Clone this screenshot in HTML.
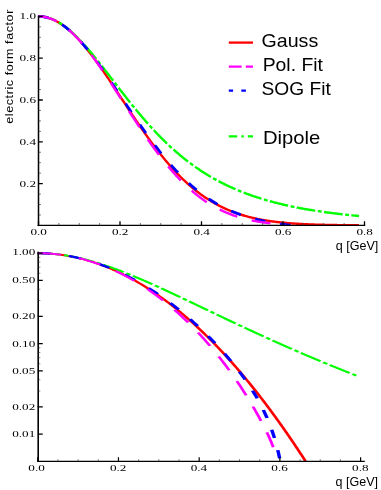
<!DOCTYPE html>
<html><head><meta charset="utf-8"><title>form factor</title>
<style>html,body{margin:0;padding:0;background:#fff}svg{display:block}</style>
</head><body>
<svg width="381" height="490" viewBox="0 0 381 490" style="will-change:transform">
<rect width="381" height="490" fill="#fff"/>
<defs>
<clipPath id="ct"><rect x="30" y="5" width="340" height="221.10"/></clipPath>
<clipPath id="cb"><rect x="30" y="245" width="340" height="216.90"/></clipPath>
</defs>
<g clip-path="url(#ct)" fill="none" stroke-linecap="butt" stroke-linejoin="round" stroke-width="2.4">
<path d="M38.50 16.40 L39.30 16.41 L40.10 16.44 L40.91 16.49 L41.71 16.56 L42.51 16.64 L43.31 16.75 L44.11 16.88 L44.91 17.02 L45.72 17.19 L46.52 17.37 L47.32 17.57 L48.12 17.80 L48.92 18.04 L49.72 18.30 L50.53 18.58 L51.33 18.87 L52.13 19.19 L52.93 19.53 L53.73 19.88 L54.53 20.25 L55.34 20.64 L56.14 21.05 L56.94 21.48 L57.74 21.93 L58.54 22.39 L59.35 22.87 L60.15 23.37 L60.95 23.89 L61.75 24.42 L62.55 24.97 L63.35 25.54 L64.16 26.12 L64.96 26.73 L65.76 27.34 L66.56 27.98 L67.36 28.63 L68.16 29.30 L68.97 29.98 L69.77 30.68 L70.57 31.39 L71.37 32.12 L72.17 32.87 L72.98 33.63 L73.78 34.40 L74.58 35.19 L75.38 36.00 L76.18 36.81 L76.98 37.65 L77.79 38.49 L78.59 39.35 L79.39 40.22 L80.19 41.11 L80.99 42.01 L81.79 42.92 L82.60 43.84 L83.40 44.78 L84.20 45.72 L85.00 46.68 L85.80 47.65 L86.60 48.63 L87.41 49.63 L88.21 50.63 L89.01 51.64 L89.81 52.67 L90.61 53.70 L91.42 54.74 L92.22 55.80 L93.02 56.86 L93.82 57.93 L94.62 59.01 L95.42 60.10 L96.23 61.19 L97.03 62.30 L97.83 63.41 L98.63 64.53 L99.43 65.65 L100.23 66.79 L101.04 67.93 L101.84 69.07 L102.64 70.23 L103.44 71.38 L104.24 72.55 L105.05 73.72 L105.85 74.89 L106.65 76.07 L107.45 77.25 L108.25 78.44 L109.05 79.63 L109.86 80.83 L110.66 82.03 L111.46 83.23 L112.26 84.43 L113.06 85.64 L113.86 86.85 L114.67 88.07 L115.47 89.28 L116.27 90.50 L117.07 91.72 L117.87 92.94 L118.67 94.16 L119.48 95.38 L120.28 96.60 L121.08 97.82 L121.88 99.05 L122.68 100.27 L123.49 101.49 L124.29 102.71 L125.09 103.94 L125.89 105.16 L126.69 106.38 L127.49 107.59 L128.30 108.81 L129.10 110.02 L129.90 111.24 L130.70 112.45 L131.50 113.65 L132.30 114.86 L133.11 116.06 L133.91 117.26 L134.71 118.45 L135.51 119.65 L136.31 120.84 L137.12 122.02 L137.92 123.20 L138.72 124.38 L139.52 125.55 L140.32 126.72 L141.12 127.89 L141.93 129.04 L142.73 130.20 L143.53 131.35 L144.33 132.49 L145.13 133.63 L145.93 134.76 L146.74 135.89 L147.54 137.01 L148.34 138.13 L149.14 139.24 L149.94 140.34 L150.74 141.44 L151.55 142.53 L152.35 143.61 L153.15 144.69 L153.95 145.76 L154.75 146.82 L155.56 147.88 L156.36 148.93 L157.16 149.97 L157.96 151.01 L158.76 152.04 L159.56 153.06 L160.37 154.07 L161.17 155.07 L161.97 156.07 L162.77 157.06 L163.57 158.04 L164.37 159.02 L165.18 159.98 L165.98 160.94 L166.78 161.89 L167.58 162.83 L168.38 163.77 L169.18 164.69 L169.99 165.61 L170.79 166.52 L171.59 167.42 L172.39 168.31 L173.19 169.19 L174.00 170.06 L174.80 170.93 L175.60 171.79 L176.40 172.64 L177.20 173.48 L178.00 174.31 L178.81 175.13 L179.61 175.95 L180.41 176.75 L181.21 177.55 L182.01 178.34 L182.81 179.12 L183.62 179.89 L184.42 180.65 L185.22 181.40 L186.02 182.15 L186.82 182.88 L187.63 183.61 L188.43 184.33 L189.23 185.04 L190.03 185.74 L190.83 186.44 L191.63 187.12 L192.44 187.80 L193.24 188.46 L194.04 189.12 L194.84 189.77 L195.64 190.42 L196.44 191.05 L197.25 191.68 L198.05 192.29 L198.85 192.90 L199.65 193.50 L200.45 194.10 L201.25 194.68 L202.06 195.26 L202.86 195.82 L203.66 196.38 L204.46 196.94 L205.26 197.48 L206.07 198.02 L206.87 198.55 L207.67 199.07 L208.47 199.58 L209.27 200.09 L210.07 200.58 L210.88 201.07 L211.68 201.56 L212.48 202.03 L213.28 202.50 L214.08 202.96 L214.88 203.42 L215.69 203.86 L216.49 204.30 L217.29 204.73 L218.09 205.16 L218.89 205.58 L219.70 205.99 L220.50 206.39 L221.30 206.79 L222.10 207.18 L222.90 207.57 L223.70 207.95 L224.51 208.32 L225.31 208.68 L226.11 209.04 L226.91 209.40 L227.71 209.74 L228.51 210.08 L229.32 210.42 L230.12 210.75 L230.92 211.07 L231.72 211.39 L232.52 211.70 L233.32 212.01 L234.13 212.31 L234.93 212.60 L235.73 212.89 L236.53 213.17 L237.33 213.45 L238.14 213.72 L238.94 213.99 L239.74 214.26 L240.54 214.51 L241.34 214.77 L242.14 215.01 L242.95 215.26 L243.75 215.50 L244.55 215.73 L245.35 215.96 L246.15 216.18 L246.95 216.40 L247.76 216.62 L248.56 216.83 L249.36 217.04 L250.16 217.24 L250.96 217.44 L251.76 217.63 L252.57 217.82 L253.37 218.01 L254.17 218.19 L254.97 218.37 L255.77 218.54 L256.58 218.71 L257.38 218.88 L258.18 219.05 L258.98 219.21 L259.78 219.36 L260.58 219.52 L261.39 219.67 L262.19 219.81 L262.99 219.96 L263.79 220.10 L264.59 220.23 L265.39 220.37 L266.20 220.50 L267.00 220.63 L267.80 220.75 L268.60 220.87 L269.40 220.99 L270.21 221.11 L271.01 221.22 L271.81 221.34 L272.61 221.44 L273.41 221.55 L274.21 221.65 L275.02 221.76 L275.82 221.85 L276.62 221.95 L277.42 222.05 L278.22 222.14 L279.02 222.23 L279.83 222.31 L280.63 222.40 L281.43 222.48 L282.23 222.56 L283.03 222.64 L283.83 222.72 L284.64 222.80 L285.44 222.87 L286.24 222.94 L287.04 223.01 L287.84 223.08 L288.65 223.15 L289.45 223.21 L290.25 223.27 L291.05 223.33 L291.85 223.39 L292.65 223.45 L293.46 223.51 L294.26 223.56 L295.06 223.62 L295.86 223.67 L296.66 223.72 L297.46 223.77 L298.27 223.82 L299.07 223.87 L299.87 223.91 L300.67 223.96 L301.47 224.00 L302.28 224.04 L303.08 224.08 L303.88 224.12 L304.68 224.16 L305.48 224.20 L306.28 224.24 L307.09 224.27 L307.89 224.31 L308.69 224.34 L309.49 224.37 L310.29 224.40 L311.09 224.44 L311.90 224.47 L312.70 224.50 L313.50 224.52 L314.30 224.55 L315.10 224.58 L315.90 224.60 L316.71 224.63 L317.51 224.65 L318.31 224.68 L319.11 224.70 L319.91 224.72 L320.72 224.74 L321.52 224.77 L322.32 224.79 L323.12 224.81 L323.92 224.83 L324.72 224.84 L325.53 224.86 L326.33 224.88 L327.13 224.90 L327.93 224.91 L328.73 224.93 L329.53 224.95 L330.34 224.96 L331.14 224.98 L331.94 224.99 L332.74 225.00 L333.54 225.02 L334.34 225.03 L335.15 225.04 L335.95 225.05 L336.75 225.07 L337.55 225.08 L338.35 225.09 L339.16 225.10 L339.96 225.11 L340.76 225.12 L341.56 225.13 L342.36 225.14 L343.16 225.15 L343.97 225.16 L344.77 225.16 L345.57 225.17 L346.37 225.18 L347.17 225.19 L347.97 225.20 L348.78 225.20 L349.58 225.21 L350.38 225.22 L351.18 225.22 L351.98 225.23 L352.79 225.24 L353.59 225.24 L354.39 225.25 L355.19 225.25 L355.99 225.26 L356.79 225.26 L357.60 225.27 L358.40 225.27 L359.00 225.28" stroke="#ff0000"/>
<path d="M38.50 16.40 L39.30 16.41 L40.10 16.44 L40.91 16.49 L41.71 16.56 L42.51 16.64 L43.31 16.75 L44.11 16.88 L44.91 17.02 L45.72 17.19 L46.52 17.37 L47.32 17.57 L48.12 17.79 L48.92 18.03 L49.72 18.29 L50.53 18.57 L51.33 18.87 L52.13 19.18 L52.93 19.52 L53.73 19.87 L54.53 20.24 L55.34 20.62 L56.14 21.03 L56.94 21.45 L57.74 21.89 L58.54 22.35 L59.35 22.82 L60.15 23.31 L60.95 23.82 L61.75 24.34 L62.55 24.88 L63.35 25.44 L64.16 26.01 L64.96 26.60 L65.76 27.20 L66.56 27.82 L67.36 28.46 L68.16 29.10 L68.97 29.77 L69.77 30.44 L70.57 31.13 L71.37 31.84 L72.17 32.55 L72.98 33.28 L73.78 34.03 L74.58 34.78 L75.38 35.55 L76.18 36.33 L76.98 37.12 L77.79 37.93 L78.59 38.74 L79.39 39.57 L80.19 40.41 L80.99 41.25 L81.79 42.11 L82.60 42.98 L83.40 43.86 L84.20 44.74 L85.00 45.64 L85.80 46.54 L86.60 47.45 L87.41 48.38 L88.21 49.30 L89.01 50.24 L89.81 51.18 L90.61 52.14 L91.42 53.09 L92.22 54.06 L93.02 55.03 L93.82 56.00 L94.62 56.99 L95.42 57.97 L96.23 58.97 L97.03 59.96 L97.83 60.97 L98.63 61.97 L99.43 62.98 L100.23 64.00 L101.04 65.02 L101.84 66.04 L102.64 67.06 L103.44 68.09 L104.24 69.12 L105.05 70.15 L105.85 71.19 L106.65 72.22 L107.45 73.26 L108.25 74.30 L109.05 75.34 L109.86 76.38 L110.66 77.42 L111.46 78.47 L112.26 79.51 L113.06 80.55 L113.86 81.60 L114.67 82.64 L115.47 83.68 L116.27 84.73 L117.07 85.77 L117.87 86.81 L118.67 87.85 L119.48 88.88 L120.28 89.92 L121.08 90.96 L121.88 91.99 L122.68 93.02 L123.49 94.05 L124.29 95.07 L125.09 96.10 L125.89 97.12 L126.69 98.14 L127.49 99.15 L128.30 100.16 L129.10 101.17 L129.90 102.18 L130.70 103.18 L131.50 104.18 L132.30 105.17 L133.11 106.16 L133.91 107.15 L134.71 108.13 L135.51 109.11 L136.31 110.09 L137.12 111.06 L137.92 112.02 L138.72 112.98 L139.52 113.94 L140.32 114.89 L141.12 115.84 L141.93 116.78 L142.73 117.72 L143.53 118.65 L144.33 119.58 L145.13 120.50 L145.93 121.42 L146.74 122.33 L147.54 123.24 L148.34 124.14 L149.14 125.03 L149.94 125.93 L150.74 126.81 L151.55 127.69 L152.35 128.56 L153.15 129.43 L153.95 130.29 L154.75 131.15 L155.56 132.00 L156.36 132.85 L157.16 133.69 L157.96 134.52 L158.76 135.35 L159.56 136.17 L160.37 136.99 L161.17 137.80 L161.97 138.60 L162.77 139.40 L163.57 140.19 L164.37 140.98 L165.18 141.76 L165.98 142.54 L166.78 143.31 L167.58 144.07 L168.38 144.83 L169.18 145.58 L169.99 146.32 L170.79 147.06 L171.59 147.80 L172.39 148.52 L173.19 149.24 L174.00 149.96 L174.80 150.67 L175.60 151.37 L176.40 152.07 L177.20 152.76 L178.00 153.45 L178.81 154.13 L179.61 154.81 L180.41 155.48 L181.21 156.14 L182.01 156.80 L182.81 157.45 L183.62 158.09 L184.42 158.74 L185.22 159.37 L186.02 160.00 L186.82 160.62 L187.63 161.24 L188.43 161.85 L189.23 162.46 L190.03 163.06 L190.83 163.66 L191.63 164.25 L192.44 164.83 L193.24 165.41 L194.04 165.99 L194.84 166.56 L195.64 167.12 L196.44 167.68 L197.25 168.23 L198.05 168.78 L198.85 169.32 L199.65 169.86 L200.45 170.40 L201.25 170.92 L202.06 171.45 L202.86 171.96 L203.66 172.48 L204.46 172.99 L205.26 173.49 L206.07 173.99 L206.87 174.48 L207.67 174.97 L208.47 175.45 L209.27 175.93 L210.07 176.41 L210.88 176.88 L211.68 177.34 L212.48 177.80 L213.28 178.26 L214.08 178.71 L214.88 179.16 L215.69 179.60 L216.49 180.04 L217.29 180.48 L218.09 180.91 L218.89 181.33 L219.70 181.75 L220.50 182.17 L221.30 182.58 L222.10 182.99 L222.90 183.40 L223.70 183.80 L224.51 184.20 L225.31 184.59 L226.11 184.98 L226.91 185.36 L227.71 185.74 L228.51 186.12 L229.32 186.50 L230.12 186.87 L230.92 187.23 L231.72 187.59 L232.52 187.95 L233.32 188.31 L234.13 188.66 L234.93 189.01 L235.73 189.35 L236.53 189.69 L237.33 190.03 L238.14 190.36 L238.94 190.70 L239.74 191.02 L240.54 191.35 L241.34 191.67 L242.14 191.99 L242.95 192.30 L243.75 192.61 L244.55 192.92 L245.35 193.22 L246.15 193.52 L246.95 193.82 L247.76 194.12 L248.56 194.41 L249.36 194.70 L250.16 194.99 L250.96 195.27 L251.76 195.55 L252.57 195.83 L253.37 196.10 L254.17 196.38 L254.97 196.65 L255.77 196.91 L256.58 197.18 L257.38 197.44 L258.18 197.70 L258.98 197.95 L259.78 198.20 L260.58 198.46 L261.39 198.70 L262.19 198.95 L262.99 199.19 L263.79 199.43 L264.59 199.67 L265.39 199.91 L266.20 200.14 L267.00 200.37 L267.80 200.60 L268.60 200.83 L269.40 201.05 L270.21 201.27 L271.01 201.49 L271.81 201.71 L272.61 201.92 L273.41 202.13 L274.21 202.35 L275.02 202.55 L275.82 202.76 L276.62 202.96 L277.42 203.17 L278.22 203.37 L279.02 203.56 L279.83 203.76 L280.63 203.95 L281.43 204.15 L282.23 204.34 L283.03 204.53 L283.83 204.71 L284.64 204.90 L285.44 205.08 L286.24 205.26 L287.04 205.44 L287.84 205.62 L288.65 205.79 L289.45 205.96 L290.25 206.14 L291.05 206.31 L291.85 206.47 L292.65 206.64 L293.46 206.81 L294.26 206.97 L295.06 207.13 L295.86 207.29 L296.66 207.45 L297.46 207.61 L298.27 207.76 L299.07 207.91 L299.87 208.07 L300.67 208.22 L301.47 208.37 L302.28 208.51 L303.08 208.66 L303.88 208.81 L304.68 208.95 L305.48 209.09 L306.28 209.23 L307.09 209.37 L307.89 209.51 L308.69 209.64 L309.49 209.78 L310.29 209.91 L311.09 210.05 L311.90 210.18 L312.70 210.31 L313.50 210.43 L314.30 210.56 L315.10 210.69 L315.90 210.81 L316.71 210.94 L317.51 211.06 L318.31 211.18 L319.11 211.30 L319.91 211.42 L320.72 211.54 L321.52 211.65 L322.32 211.77 L323.12 211.88 L323.92 211.99 L324.72 212.11 L325.53 212.22 L326.33 212.33 L327.13 212.44 L327.93 212.54 L328.73 212.65 L329.53 212.76 L330.34 212.86 L331.14 212.96 L331.94 213.07 L332.74 213.17 L333.54 213.27 L334.34 213.37 L335.15 213.47 L335.95 213.56 L336.75 213.66 L337.55 213.76 L338.35 213.85 L339.16 213.95 L339.96 214.04 L340.76 214.13 L341.56 214.22 L342.36 214.31 L343.16 214.40 L343.97 214.49 L344.77 214.58 L345.57 214.67 L346.37 214.75 L347.17 214.84 L347.97 214.92 L348.78 215.01 L349.58 215.09 L350.38 215.17 L351.18 215.25 L351.98 215.33 L352.79 215.41 L353.59 215.49 L354.39 215.57 L355.19 215.65 L355.99 215.73 L356.79 215.80 L357.60 215.88 L358.40 215.95 L359.00 216.01" stroke="#00ff00" stroke-dasharray="18.8 2.6 3.8 2.4"/>
<path d="M38.50 16.40 L39.30 16.41 L40.10 16.44 L40.91 16.49 L41.71 16.56 L42.51 16.64 L43.31 16.75 L44.11 16.88 L44.91 17.02 L45.72 17.19 L46.52 17.37 L47.32 17.57 L48.12 17.80 L48.92 18.04 L49.72 18.30 L50.53 18.58 L51.33 18.87 L52.13 19.19 L52.93 19.53 L53.73 19.88 L54.53 20.25 L55.34 20.64 L56.14 21.05 L56.94 21.48 L57.74 21.92 L58.54 22.38 L59.35 22.86 L60.15 23.36 L60.95 23.88 L61.75 24.41 L62.55 24.96 L63.35 25.53 L64.16 26.11 L64.96 26.71 L65.76 27.33 L66.56 27.96 L67.36 28.61 L68.16 29.27 L68.97 29.95 L69.77 30.65 L70.57 31.36 L71.37 32.08 L72.17 32.82 L72.98 33.58 L73.78 34.35 L74.58 35.14 L75.38 35.93 L76.18 36.75 L76.98 37.57 L77.79 38.41 L78.59 39.27 L79.39 40.13 L80.19 41.01 L80.99 41.90 L81.79 42.80 L82.60 43.72 L83.40 44.65 L84.20 45.58 L85.00 46.53 L85.80 47.49 L86.60 48.47 L87.41 49.45 L88.21 50.44 L89.01 51.44 L89.81 52.46 L90.61 53.48 L91.42 54.51 L92.22 55.55 L93.02 56.60 L93.82 57.65 L94.62 58.72 L95.42 59.79 L96.23 60.87 L97.03 61.96 L97.83 63.06 L98.63 64.16 L99.43 65.27 L100.23 66.39 L101.04 67.51 L101.84 68.64 L102.64 69.77 L103.44 70.91 L104.24 72.06 L105.05 73.21 L105.85 74.36 L106.65 75.52 L107.45 76.68 L108.25 77.85 L109.05 79.02 L109.86 80.19 L110.66 81.37 L111.46 82.55 L112.26 83.74 L113.06 84.92 L113.86 86.11 L114.67 87.30 L115.47 88.49 L116.27 89.68 L117.07 90.88 L117.87 92.07 L118.67 93.27 L119.48 94.47 L120.28 95.67 L121.08 96.87 L121.88 98.06 L122.68 99.26 L123.49 100.46 L124.29 101.66 L125.09 102.85 L125.89 104.05 L126.69 105.25 L127.49 106.44 L128.30 107.63 L129.10 108.82 L129.90 110.01 L130.70 111.20 L131.50 112.38 L132.30 113.56 L133.11 114.74 L133.91 115.92 L134.71 117.09 L135.51 118.26 L136.31 119.43 L137.12 120.59 L137.92 121.76 L138.72 122.91 L139.52 124.07 L140.32 125.21 L141.12 126.36 L141.93 127.50 L142.73 128.64 L143.53 129.77 L144.33 130.90 L145.13 132.02 L145.93 133.14 L146.74 134.25 L147.54 135.36 L148.34 136.46 L149.14 137.55 L149.94 138.65 L150.74 139.73 L151.55 140.81 L152.35 141.89 L153.15 142.95 L153.95 144.02 L154.75 145.07 L155.56 146.12 L156.36 147.16 L157.16 148.20 L157.96 149.23 L158.76 150.26 L159.56 151.27 L160.37 152.28 L161.17 153.29 L161.97 154.28 L162.77 155.27 L163.57 156.25 L164.37 157.23 L165.18 158.20 L165.98 159.16 L166.78 160.11 L167.58 161.06 L168.38 162.00 L169.18 162.93 L169.99 163.85 L170.79 164.77 L171.59 165.68 L172.39 166.58 L173.19 167.47 L174.00 168.35 L174.80 169.23 L175.60 170.10 L176.40 170.96 L177.20 171.81 L178.00 172.66 L178.81 173.49 L179.61 174.32 L180.41 175.14 L181.21 175.95 L182.01 176.76 L182.81 177.55 L183.62 178.34 L184.42 179.12 L185.22 179.89 L186.02 180.66 L186.82 181.41 L187.63 182.16 L188.43 182.89 L189.23 183.62 L190.03 184.35 L190.83 185.06 L191.63 185.76 L192.44 186.46 L193.24 187.15 L194.04 187.83 L194.84 188.50 L195.64 189.17 L196.44 189.82 L197.25 190.47 L198.05 191.11 L198.85 191.74 L199.65 192.36 L200.45 192.98 L201.25 193.59 L202.06 194.18 L202.86 194.78 L203.66 195.36 L204.46 195.93 L205.26 196.50 L206.07 197.06 L206.87 197.61 L207.67 198.16 L208.47 198.69 L209.27 199.22 L210.07 199.75 L210.88 200.26 L211.68 200.77 L212.48 201.27 L213.28 201.76 L214.08 202.24 L214.88 202.72 L215.69 203.19 L216.49 203.65 L217.29 204.11 L218.09 204.56 L218.89 205.00 L219.70 205.44 L220.50 205.87 L221.30 206.29 L222.10 206.70 L222.90 207.11 L223.70 207.52 L224.51 207.91 L225.31 208.30 L226.11 208.69 L226.91 209.06 L227.71 209.44 L228.51 209.80 L229.32 210.16 L230.12 210.51 L230.92 210.86 L231.72 211.20 L232.52 211.54 L233.32 211.87 L234.13 212.20 L234.93 212.52 L235.73 212.83 L236.53 213.14 L237.33 213.44 L238.14 213.74 L238.94 214.04 L239.74 214.33 L240.54 214.61 L241.34 214.89 L242.14 215.16 L242.95 215.43 L243.75 215.70 L244.55 215.96 L245.35 216.21 L246.15 216.47 L246.95 216.71 L247.76 216.96 L248.56 217.20 L249.36 217.43 L250.16 217.66 L250.96 217.89 L251.76 218.11 L252.57 218.33 L253.37 218.54 L254.17 218.75 L254.97 218.96 L255.77 219.16 L256.58 219.36 L257.38 219.56 L258.18 219.75 L258.98 219.94 L259.78 220.13 L260.58 220.31 L261.39 220.49 L262.19 220.67 L262.99 220.84 L263.79 221.01 L264.59 221.18 L265.39 221.35 L266.20 221.51 L267.00 221.67 L267.80 221.82 L268.60 221.97 L269.40 222.12 L270.21 222.27 L271.01 222.42 L271.81 222.56 L272.61 222.70 L273.41 222.84 L274.21 222.97 L275.02 223.11 L275.82 223.24 L276.62 223.36 L277.42 223.49 L278.22 223.61 L279.02 223.73 L279.83 223.85 L280.63 223.97 L281.43 224.08 L282.23 224.20 L283.03 224.31 L283.83 224.42 L284.64 224.52 L285.44 224.63 L286.24 224.73 L287.04 224.83 L287.84 224.93 L288.65 225.03 L289.45 225.12 L290.25 225.21 L291.05 225.31 L291.85 225.40" stroke="#0000ff" stroke-width="2.8" stroke-dasharray="10.4 15.05"/>
<path d="M38.50 16.40 L39.30 16.41 L40.10 16.44 L40.91 16.49 L41.71 16.56 L42.51 16.64 L43.31 16.75 L44.11 16.88 L44.91 17.02 L45.72 17.19 L46.52 17.37 L47.32 17.57 L48.12 17.80 L48.92 18.04 L49.72 18.30 L50.53 18.58 L51.33 18.88 L52.13 19.19 L52.93 19.53 L53.73 19.88 L54.53 20.26 L55.34 20.65 L56.14 21.06 L56.94 21.48 L57.74 21.93 L58.54 22.40 L59.35 22.88 L60.15 23.38 L60.95 23.89 L61.75 24.43 L62.55 24.98 L63.35 25.55 L64.16 26.14 L64.96 26.74 L65.76 27.36 L66.56 28.00 L67.36 28.65 L68.16 29.32 L68.97 30.01 L69.77 30.71 L70.57 31.43 L71.37 32.16 L72.17 32.91 L72.98 33.67 L73.78 34.45 L74.58 35.24 L75.38 36.05 L76.18 36.87 L76.98 37.71 L77.79 38.56 L78.59 39.43 L79.39 40.30 L80.19 41.19 L80.99 42.10 L81.79 43.02 L82.60 43.95 L83.40 44.89 L84.20 45.85 L85.00 46.81 L85.80 47.79 L86.60 48.78 L87.41 49.78 L88.21 50.80 L89.01 51.82 L89.81 52.85 L90.61 53.90 L91.42 54.95 L92.22 56.02 L93.02 57.09 L93.82 58.18 L94.62 59.27 L95.42 60.37 L96.23 61.48 L97.03 62.60 L97.83 63.73 L98.63 64.86 L99.43 66.00 L100.23 67.15 L101.04 68.31 L101.84 69.47 L102.64 70.64 L103.44 71.82 L104.24 73.00 L105.05 74.19 L105.85 75.39 L106.65 76.58 L107.45 77.79 L108.25 79.00 L109.05 80.21 L109.86 81.43 L110.66 82.65 L111.46 83.88 L112.26 85.11 L113.06 86.34 L113.86 87.57 L114.67 88.81 L115.47 90.05 L116.27 91.29 L117.07 92.54 L117.87 93.79 L118.67 95.03 L119.48 96.28 L120.28 97.53 L121.08 98.78 L121.88 100.04 L122.68 101.29 L123.49 102.54 L124.29 103.79 L125.09 105.04 L125.89 106.29 L126.69 107.54 L127.49 108.79 L128.30 110.04 L129.10 111.29 L129.90 112.53 L130.70 113.77 L131.50 115.02 L132.30 116.25 L133.11 117.49 L133.91 118.72 L134.71 119.95 L135.51 121.18 L136.31 122.40 L137.12 123.62 L137.92 124.84 L138.72 126.05 L139.52 127.26 L140.32 128.46 L141.12 129.66 L141.93 130.85 L142.73 132.04 L143.53 133.23 L144.33 134.41 L145.13 135.58 L145.93 136.75 L146.74 137.91 L147.54 139.07 L148.34 140.22 L149.14 141.36 L149.94 142.50 L150.74 143.63 L151.55 144.76 L152.35 145.88 L153.15 146.99 L153.95 148.10 L154.75 149.19 L155.56 150.29 L156.36 151.37 L157.16 152.45 L157.96 153.51 L158.76 154.58 L159.56 155.63 L160.37 156.68 L161.17 157.71 L161.97 158.74 L162.77 159.76 L163.57 160.78 L164.37 161.78 L165.18 162.78 L165.98 163.77 L166.78 164.75 L167.58 165.72 L168.38 166.68 L169.18 167.64 L169.99 168.58 L170.79 169.52 L171.59 170.44 L172.39 171.36 L173.19 172.27 L174.00 173.17 L174.80 174.06 L175.60 174.95 L176.40 175.82 L177.20 176.68 L178.00 177.54 L178.81 178.39 L179.61 179.22 L180.41 180.05 L181.21 180.87 L182.01 181.68 L182.81 182.48 L183.62 183.27 L184.42 184.05 L185.22 184.82 L186.02 185.58 L186.82 186.33 L187.63 187.08 L188.43 187.81 L189.23 188.54 L190.03 189.25 L190.83 189.96 L191.63 190.66 L192.44 191.34 L193.24 192.02 L194.04 192.69 L194.84 193.35 L195.64 194.00 L196.44 194.65 L197.25 195.28 L198.05 195.90 L198.85 196.52 L199.65 197.13 L200.45 197.72 L201.25 198.31 L202.06 198.89 L202.86 199.46 L203.66 200.03 L204.46 200.58 L205.26 201.13 L206.07 201.66 L206.87 202.19 L207.67 202.71 L208.47 203.22 L209.27 203.72 L210.07 204.22 L210.88 204.71 L211.68 205.18 L212.48 205.66 L213.28 206.12 L214.08 206.57 L214.88 207.02 L215.69 207.46 L216.49 207.89 L217.29 208.31 L218.09 208.73 L218.89 209.14 L219.70 209.54 L220.50 209.93 L221.30 210.32 L222.10 210.70 L222.90 211.07 L223.70 211.43 L224.51 211.79 L225.31 212.14 L226.11 212.49 L226.91 212.83 L227.71 213.16 L228.51 213.48 L229.32 213.80 L230.12 214.11 L230.92 214.42 L231.72 214.71 L232.52 215.01 L233.32 215.29 L234.13 215.57 L234.93 215.85 L235.73 216.12 L236.53 216.38 L237.33 216.64 L238.14 216.89 L238.94 217.13 L239.74 217.38 L240.54 217.61 L241.34 217.84 L242.14 218.06 L242.95 218.28 L243.75 218.50 L244.55 218.71 L245.35 218.91 L246.15 219.11 L246.95 219.31 L247.76 219.50 L248.56 219.68 L249.36 219.87 L250.16 220.04 L250.96 220.22 L251.76 220.38 L252.57 220.55 L253.37 220.71 L254.17 220.86 L254.97 221.02 L255.77 221.16 L256.58 221.31 L257.38 221.45 L258.18 221.59 L258.98 221.72 L259.78 221.85 L260.58 221.97 L261.39 222.10 L262.19 222.22 L262.99 222.33 L263.79 222.45 L264.59 222.56 L265.39 222.66 L266.20 222.77 L267.00 222.87 L267.80 222.97 L268.60 223.06 L269.40 223.16 L270.21 223.25 L271.01 223.34 L271.81 223.43 L272.61 223.51 L273.41 223.60 L274.21 223.68 L275.02 223.77 L275.82 223.85 L276.62 223.94 L277.42 224.02 L278.22 224.11 L279.02 224.20 L279.83 224.30 L280.63 224.40 L281.43 224.51 L282.23 224.63 L283.03 224.77 L283.83 224.92 L284.64 225.09 L285.44 225.29 L285.84 225.40" stroke="#ff00ff" stroke-dasharray="19 14.85"/>
</g>
<g clip-path="url(#cb)">
<g transform="translate(37.75 253.2) scale(1.24 0.81)" fill="none" stroke-linecap="butt" stroke-linejoin="round" stroke-width="2.4">
<path d="M0.00 0.00 L0.64 0.00 L1.29 0.01 L1.93 0.02 L2.57 0.04 L3.21 0.06 L3.86 0.08 L4.50 0.11 L5.14 0.15 L5.78 0.18 L6.43 0.23 L7.07 0.28 L7.71 0.33 L8.35 0.38 L9.00 0.45 L9.64 0.51 L10.28 0.58 L10.92 0.66 L11.57 0.74 L12.21 0.82 L12.85 0.91 L13.49 1.00 L14.14 1.10 L14.78 1.20 L15.42 1.31 L16.06 1.42 L16.71 1.54 L17.35 1.66 L17.99 1.78 L18.63 1.91 L19.28 2.05 L19.92 2.19 L20.56 2.33 L21.21 2.48 L21.85 2.63 L22.49 2.79 L23.13 2.95 L23.78 3.11 L24.42 3.28 L25.06 3.46 L25.70 3.64 L26.35 3.82 L26.99 4.01 L27.63 4.20 L28.27 4.40 L28.92 4.60 L29.56 4.81 L30.20 5.02 L30.84 5.24 L31.49 5.46 L32.13 5.68 L32.77 5.91 L33.41 6.15 L34.06 6.39 L34.70 6.63 L35.34 6.88 L35.98 7.13 L36.63 7.39 L37.27 7.65 L37.91 7.92 L38.55 8.19 L39.20 8.46 L39.84 8.74 L40.48 9.02 L41.13 9.31 L41.77 9.61 L42.41 9.90 L43.05 10.21 L43.70 10.51 L44.34 10.83 L44.98 11.14 L45.62 11.46 L46.27 11.79 L46.91 12.12 L47.55 12.45 L48.19 12.79 L48.84 13.13 L49.48 13.48 L50.12 13.83 L50.76 14.19 L51.41 14.55 L52.05 14.92 L52.69 15.29 L53.33 15.66 L53.98 16.04 L54.62 16.43 L55.26 16.82 L55.90 17.21 L56.55 17.61 L57.19 18.01 L57.83 18.42 L58.48 18.83 L59.12 19.25 L59.76 19.67 L60.40 20.09 L61.05 20.52 L61.69 20.96 L62.33 21.39 L62.97 21.84 L63.62 22.29 L64.26 22.74 L64.90 23.20 L65.54 23.66 L66.19 24.12 L66.83 24.59 L67.47 25.07 L68.11 25.55 L68.76 26.03 L69.40 26.52 L70.04 27.02 L70.68 27.51 L71.33 28.02 L71.97 28.52 L72.61 29.03 L73.25 29.55 L73.90 30.07 L74.54 30.60 L75.18 31.13 L75.82 31.66 L76.47 32.20 L77.11 32.74 L77.75 33.29 L78.40 33.84 L79.04 34.40 L79.68 34.96 L80.32 35.53 L80.97 36.10 L81.61 36.67 L82.25 37.25 L82.89 37.84 L83.54 38.43 L84.18 39.02 L84.82 39.62 L85.46 40.22 L86.11 40.83 L86.75 41.44 L87.39 42.06 L88.03 42.68 L88.68 43.30 L89.32 43.93 L89.96 44.57 L90.60 45.21 L91.25 45.85 L91.89 46.50 L92.53 47.15 L93.17 47.81 L93.82 48.47 L94.46 49.14 L95.10 49.81 L95.74 50.48 L96.39 51.16 L97.03 51.85 L97.67 52.53 L98.32 53.23 L98.96 53.93 L99.60 54.63 L100.24 55.34 L100.89 56.05 L101.53 56.76 L102.17 57.48 L102.81 58.21 L103.46 58.94 L104.10 59.67 L104.74 60.41 L105.38 61.16 L106.03 61.91 L106.67 62.66 L107.31 63.42 L107.95 64.18 L108.60 64.94 L109.24 65.71 L109.88 66.49 L110.52 67.27 L111.17 68.05 L111.81 68.84 L112.45 69.64 L113.09 70.43 L113.74 71.24 L114.38 72.04 L115.02 72.86 L115.66 73.67 L116.31 74.49 L116.95 75.32 L117.59 76.15 L118.24 76.98 L118.88 77.82 L119.52 78.67 L120.16 79.51 L120.81 80.37 L121.45 81.22 L122.09 82.09 L122.73 82.95 L123.38 83.82 L124.02 84.70 L124.66 85.58 L125.30 86.46 L125.95 87.35 L126.59 88.25 L127.23 89.14 L127.87 90.05 L128.52 90.95 L129.16 91.87 L129.80 92.78 L130.44 93.70 L131.09 94.63 L131.73 95.56 L132.37 96.49 L133.01 97.43 L133.66 98.38 L134.30 99.32 L134.94 100.28 L135.59 101.23 L136.23 102.20 L136.87 103.16 L137.51 104.13 L138.16 105.11 L138.80 106.09 L139.44 107.07 L140.08 108.06 L140.73 109.06 L141.37 110.05 L142.01 111.06 L142.65 112.06 L143.30 113.08 L143.94 114.09 L144.58 115.11 L145.22 116.14 L145.87 117.17 L146.51 118.20 L147.15 119.24 L147.79 120.29 L148.44 121.33 L149.08 122.39 L149.72 123.44 L150.36 124.51 L151.01 125.57 L151.65 126.64 L152.29 127.72 L152.93 128.80 L153.58 129.88 L154.22 130.97 L154.86 132.07 L155.51 133.17 L156.15 134.27 L156.79 135.38 L157.43 136.49 L158.08 137.60 L158.72 138.72 L159.36 139.85 L160.00 140.98 L160.65 142.11 L161.29 143.25 L161.93 144.40 L162.57 145.55 L163.22 146.70 L163.86 147.86 L164.50 149.02 L165.14 150.18 L165.79 151.36 L166.43 152.53 L167.07 153.71 L167.71 154.90 L168.36 156.09 L169.00 157.28 L169.64 158.48 L170.28 159.68 L170.93 160.89 L171.57 162.10 L172.21 163.32 L172.85 164.54 L173.50 165.76 L174.14 166.99 L174.78 168.23 L175.43 169.47 L176.07 170.71 L176.71 171.96 L177.35 173.21 L178.00 174.47 L178.64 175.73 L179.28 177.00 L179.92 178.27 L180.57 179.54 L181.21 180.82 L181.85 182.11 L182.49 183.40 L183.14 184.69 L183.78 185.99 L184.42 187.29 L185.06 188.60 L185.71 189.91 L186.35 191.23 L186.99 192.55 L187.63 193.88 L188.28 195.21 L188.92 196.54 L189.56 197.88 L190.20 199.22 L190.85 200.57 L191.49 201.93 L192.13 203.28 L192.77 204.65 L193.42 206.01 L194.06 207.38 L194.70 208.76 L195.35 210.14 L195.99 211.52 L196.63 212.91 L197.27 214.31 L197.92 215.71 L198.56 217.11 L199.20 218.52 L199.84 219.93 L200.49 221.34 L201.13 222.77 L201.77 224.19 L202.41 225.62 L203.06 227.06 L203.70 228.50 L204.34 229.94 L204.98 231.39 L205.63 232.84 L206.27 234.30 L206.91 235.76 L207.55 237.23 L208.20 238.70 L208.84 240.17 L209.48 241.65 L210.12 243.14 L210.77 244.63 L211.41 246.12 L212.05 247.62 L212.70 249.12 L213.34 250.63 L213.98 252.14 L214.62 253.66 L215.27 255.18 L215.91 256.71" stroke="#ff0000"/>
<path d="M0.00 0.00 L0.64 0.00 L1.29 0.01 L1.93 0.02 L2.57 0.04 L3.21 0.06 L3.86 0.08 L4.50 0.11 L5.14 0.15 L5.78 0.18 L6.43 0.23 L7.07 0.27 L7.71 0.33 L8.35 0.38 L9.00 0.44 L9.64 0.51 L10.28 0.58 L10.92 0.65 L11.57 0.73 L12.21 0.82 L12.85 0.91 L13.49 1.00 L14.14 1.09 L14.78 1.20 L15.42 1.30 L16.06 1.41 L16.71 1.53 L17.35 1.64 L17.99 1.77 L18.63 1.89 L19.28 2.03 L19.92 2.16 L20.56 2.30 L21.21 2.45 L21.85 2.59 L22.49 2.75 L23.13 2.90 L23.78 3.06 L24.42 3.23 L25.06 3.40 L25.70 3.57 L26.35 3.75 L26.99 3.93 L27.63 4.12 L28.27 4.31 L28.92 4.50 L29.56 4.70 L30.20 4.90 L30.84 5.10 L31.49 5.31 L32.13 5.52 L32.77 5.74 L33.41 5.96 L34.06 6.19 L34.70 6.41 L35.34 6.65 L35.98 6.88 L36.63 7.12 L37.27 7.36 L37.91 7.61 L38.55 7.86 L39.20 8.11 L39.84 8.37 L40.48 8.63 L41.13 8.89 L41.77 9.16 L42.41 9.43 L43.05 9.71 L43.70 9.98 L44.34 10.26 L44.98 10.55 L45.62 10.83 L46.27 11.12 L46.91 11.42 L47.55 11.72 L48.19 12.01 L48.84 12.32 L49.48 12.62 L50.12 12.93 L50.76 13.24 L51.41 13.56 L52.05 13.88 L52.69 14.20 L53.33 14.52 L53.98 14.85 L54.62 15.18 L55.26 15.51 L55.90 15.84 L56.55 16.18 L57.19 16.52 L57.83 16.86 L58.48 17.21 L59.12 17.56 L59.76 17.91 L60.40 18.26 L61.05 18.62 L61.69 18.97 L62.33 19.33 L62.97 19.70 L63.62 20.06 L64.26 20.43 L64.90 20.80 L65.54 21.17 L66.19 21.54 L66.83 21.92 L67.47 22.30 L68.11 22.68 L68.76 23.06 L69.40 23.45 L70.04 23.83 L70.68 24.22 L71.33 24.61 L71.97 25.01 L72.61 25.40 L73.25 25.80 L73.90 26.20 L74.54 26.60 L75.18 27.00 L75.82 27.40 L76.47 27.81 L77.11 28.21 L77.75 28.62 L78.40 29.03 L79.04 29.45 L79.68 29.86 L80.32 30.27 L80.97 30.69 L81.61 31.11 L82.25 31.53 L82.89 31.95 L83.54 32.37 L84.18 32.80 L84.82 33.22 L85.46 33.65 L86.11 34.08 L86.75 34.51 L87.39 34.94 L88.03 35.37 L88.68 35.80 L89.32 36.24 L89.96 36.68 L90.60 37.11 L91.25 37.55 L91.89 37.99 L92.53 38.43 L93.17 38.87 L93.82 39.31 L94.46 39.76 L95.10 40.20 L95.74 40.65 L96.39 41.09 L97.03 41.54 L97.67 41.99 L98.32 42.44 L98.96 42.89 L99.60 43.34 L100.24 43.79 L100.89 44.24 L101.53 44.69 L102.17 45.15 L102.81 45.60 L103.46 46.06 L104.10 46.51 L104.74 46.97 L105.38 47.43 L106.03 47.88 L106.67 48.34 L107.31 48.80 L107.95 49.26 L108.60 49.72 L109.24 50.18 L109.88 50.64 L110.52 51.10 L111.17 51.57 L111.81 52.03 L112.45 52.49 L113.09 52.96 L113.74 53.42 L114.38 53.88 L115.02 54.35 L115.66 54.81 L116.31 55.28 L116.95 55.75 L117.59 56.21 L118.24 56.68 L118.88 57.15 L119.52 57.61 L120.16 58.08 L120.81 58.55 L121.45 59.01 L122.09 59.48 L122.73 59.95 L123.38 60.42 L124.02 60.89 L124.66 61.36 L125.30 61.83 L125.95 62.29 L126.59 62.76 L127.23 63.23 L127.87 63.70 L128.52 64.17 L129.16 64.64 L129.80 65.11 L130.44 65.58 L131.09 66.05 L131.73 66.52 L132.37 66.99 L133.01 67.46 L133.66 67.93 L134.30 68.40 L134.94 68.87 L135.59 69.34 L136.23 69.81 L136.87 70.28 L137.51 70.75 L138.16 71.22 L138.80 71.69 L139.44 72.16 L140.08 72.62 L140.73 73.09 L141.37 73.56 L142.01 74.03 L142.65 74.50 L143.30 74.97 L143.94 75.44 L144.58 75.90 L145.22 76.37 L145.87 76.84 L146.51 77.31 L147.15 77.78 L147.79 78.24 L148.44 78.71 L149.08 79.18 L149.72 79.64 L150.36 80.11 L151.01 80.57 L151.65 81.04 L152.29 81.51 L152.93 81.97 L153.58 82.44 L154.22 82.90 L154.86 83.37 L155.51 83.83 L156.15 84.29 L156.79 84.76 L157.43 85.22 L158.08 85.68 L158.72 86.15 L159.36 86.61 L160.00 87.07 L160.65 87.53 L161.29 87.99 L161.93 88.45 L162.57 88.91 L163.22 89.37 L163.86 89.83 L164.50 90.29 L165.14 90.75 L165.79 91.21 L166.43 91.67 L167.07 92.13 L167.71 92.58 L168.36 93.04 L169.00 93.50 L169.64 93.95 L170.28 94.41 L170.93 94.86 L171.57 95.32 L172.21 95.77 L172.85 96.23 L173.50 96.68 L174.14 97.13 L174.78 97.59 L175.43 98.04 L176.07 98.49 L176.71 98.94 L177.35 99.39 L178.00 99.84 L178.64 100.29 L179.28 100.74 L179.92 101.19 L180.57 101.64 L181.21 102.09 L181.85 102.54 L182.49 102.98 L183.14 103.43 L183.78 103.88 L184.42 104.32 L185.06 104.77 L185.71 105.21 L186.35 105.66 L186.99 106.10 L187.63 106.54 L188.28 106.99 L188.92 107.43 L189.56 107.87 L190.20 108.31 L190.85 108.75 L191.49 109.19 L192.13 109.63 L192.77 110.07 L193.42 110.51 L194.06 110.95 L194.70 111.39 L195.35 111.82 L195.99 112.26 L196.63 112.70 L197.27 113.13 L197.92 113.57 L198.56 114.00 L199.20 114.43 L199.84 114.87 L200.49 115.30 L201.13 115.73 L201.77 116.16 L202.41 116.59 L203.06 117.03 L203.70 117.46 L204.34 117.88 L204.98 118.31 L205.63 118.74 L206.27 119.17 L206.91 119.60 L207.55 120.02 L208.20 120.45 L208.84 120.88 L209.48 121.30 L210.12 121.73 L210.77 122.15 L211.41 122.57 L212.05 123.00 L212.70 123.42 L213.34 123.84 L213.98 124.26 L214.62 124.68 L215.27 125.10 L215.91 125.52 L216.55 125.94 L217.19 126.36 L217.84 126.78 L218.48 127.19 L219.12 127.61 L219.76 128.03 L220.41 128.44 L221.05 128.86 L221.69 129.27 L222.33 129.68 L222.98 130.10 L223.62 130.51 L224.26 130.92 L224.90 131.33 L225.55 131.74 L226.19 132.16 L226.83 132.57 L227.47 132.97 L228.12 133.38 L228.76 133.79 L229.40 134.20 L230.04 134.61 L230.69 135.01 L231.33 135.42 L231.97 135.82 L232.62 136.23 L233.26 136.63 L233.90 137.04 L234.54 137.44 L235.19 137.84 L235.83 138.24 L236.47 138.64 L237.11 139.05 L237.76 139.45 L238.40 139.85 L239.04 140.24 L239.68 140.64 L240.33 141.04 L240.97 141.44 L241.61 141.83 L242.25 142.23 L242.90 142.63 L243.54 143.02 L244.18 143.42 L244.82 143.81 L245.47 144.20 L246.11 144.60 L246.75 144.99 L247.39 145.38 L248.04 145.77 L248.68 146.16 L249.32 146.55 L249.96 146.94 L250.61 147.33 L251.25 147.72 L251.89 148.11 L252.54 148.49 L253.18 148.88 L253.82 149.27 L254.46 149.65 L255.11 150.04 L255.75 150.42 L256.39 150.81 L256.87 151.09" stroke="#00ff00" stroke-dasharray="18.8 2.6 3.8 2.4"/>
<path d="M0.00 0.00 L0.64 0.00 L1.29 0.01 L1.93 0.02 L2.57 0.04 L3.21 0.06 L3.86 0.08 L4.50 0.11 L5.14 0.15 L5.78 0.18 L6.43 0.23 L7.07 0.28 L7.71 0.33 L8.35 0.38 L9.00 0.45 L9.64 0.51 L10.28 0.58 L10.92 0.66 L11.57 0.74 L12.21 0.82 L12.85 0.91 L13.49 1.00 L14.14 1.10 L14.78 1.20 L15.42 1.31 L16.06 1.42 L16.71 1.54 L17.35 1.66 L17.99 1.78 L18.63 1.91 L19.28 2.04 L19.92 2.18 L20.56 2.32 L21.21 2.47 L21.85 2.62 L22.49 2.78 L23.13 2.94 L23.78 3.11 L24.42 3.28 L25.06 3.45 L25.70 3.63 L26.35 3.81 L26.99 4.00 L27.63 4.19 L28.27 4.39 L28.92 4.59 L29.56 4.80 L30.20 5.01 L30.84 5.22 L31.49 5.44 L32.13 5.66 L32.77 5.89 L33.41 6.12 L34.06 6.36 L34.70 6.60 L35.34 6.85 L35.98 7.10 L36.63 7.35 L37.27 7.61 L37.91 7.87 L38.55 8.14 L39.20 8.41 L39.84 8.69 L40.48 8.97 L41.13 9.25 L41.77 9.54 L42.41 9.84 L43.05 10.14 L43.70 10.44 L44.34 10.74 L44.98 11.06 L45.62 11.37 L46.27 11.69 L46.91 12.02 L47.55 12.35 L48.19 12.68 L48.84 13.02 L49.48 13.36 L50.12 13.70 L50.76 14.05 L51.41 14.41 L52.05 14.77 L52.69 15.13 L53.33 15.50 L53.98 15.87 L54.62 16.25 L55.26 16.63 L55.90 17.01 L56.55 17.40 L57.19 17.80 L57.83 18.19 L58.48 18.60 L59.12 19.00 L59.76 19.41 L60.40 19.83 L61.05 20.25 L61.69 20.67 L62.33 21.10 L62.97 21.53 L63.62 21.97 L64.26 22.41 L64.90 22.85 L65.54 23.30 L66.19 23.76 L66.83 24.21 L67.47 24.67 L68.11 25.14 L68.76 25.61 L69.40 26.09 L70.04 26.57 L70.68 27.05 L71.33 27.54 L71.97 28.03 L72.61 28.53 L73.25 29.03 L73.90 29.53 L74.54 30.04 L75.18 30.55 L75.82 31.07 L76.47 31.60 L77.11 32.12 L77.75 32.65 L78.40 33.19 L79.04 33.73 L79.68 34.27 L80.32 34.82 L80.97 35.37 L81.61 35.93 L82.25 36.49 L82.89 37.06 L83.54 37.63 L84.18 38.20 L84.82 38.78 L85.46 39.37 L86.11 39.96 L86.75 40.55 L87.39 41.15 L88.03 41.75 L88.68 42.35 L89.32 42.97 L89.96 43.58 L90.60 44.20 L91.25 44.83 L91.89 45.45 L92.53 46.09 L93.17 46.73 L93.82 47.37 L94.46 48.02 L95.10 48.67 L95.74 49.33 L96.39 49.99 L97.03 50.65 L97.67 51.32 L98.32 52.00 L98.96 52.68 L99.60 53.37 L100.24 54.05 L100.89 54.75 L101.53 55.45 L102.17 56.15 L102.81 56.86 L103.46 57.57 L104.10 58.29 L104.74 59.02 L105.38 59.74 L106.03 60.48 L106.67 61.21 L107.31 61.96 L107.95 62.70 L108.60 63.46 L109.24 64.21 L109.88 64.98 L110.52 65.74 L111.17 66.51 L111.81 67.29 L112.45 68.07 L113.09 68.86 L113.74 69.65 L114.38 70.45 L115.02 71.25 L115.66 72.06 L116.31 72.87 L116.95 73.68 L117.59 74.51 L118.24 75.33 L118.88 76.16 L119.52 77.00 L120.16 77.84 L120.81 78.69 L121.45 79.54 L122.09 80.40 L122.73 81.26 L123.38 82.13 L124.02 83.00 L124.66 83.88 L125.30 84.76 L125.95 85.65 L126.59 86.54 L127.23 87.44 L127.87 88.34 L128.52 89.25 L129.16 90.16 L129.80 91.08 L130.44 92.01 L131.09 92.94 L131.73 93.87 L132.37 94.81 L133.01 95.76 L133.66 96.71 L134.30 97.66 L134.94 98.63 L135.59 99.59 L136.23 100.57 L136.87 101.55 L137.51 102.53 L138.16 103.52 L138.80 104.52 L139.44 105.52 L140.08 106.53 L140.73 107.54 L141.37 108.56 L142.01 109.58 L142.65 110.61 L143.30 111.65 L143.94 112.70 L144.58 113.75 L145.22 114.80 L145.87 115.87 L146.51 116.94 L147.15 118.01 L147.79 119.10 L148.44 120.19 L149.08 121.28 L149.72 122.39 L150.36 123.50 L151.01 124.62 L151.65 125.74 L152.29 126.88 L152.93 128.02 L153.58 129.17 L154.22 130.33 L154.86 131.50 L155.51 132.67 L156.15 133.86 L156.79 135.05 L157.43 136.25 L158.08 137.46 L158.72 138.69 L159.36 139.92 L160.00 141.16 L160.65 142.41 L161.29 143.68 L161.93 144.95 L162.57 146.24 L163.22 147.54 L163.86 148.85 L164.50 150.17 L165.14 151.51 L165.79 152.86 L166.43 154.22 L167.07 155.60 L167.71 157.00 L168.36 158.41 L169.00 159.84 L169.64 161.28 L170.28 162.74 L170.93 164.23 L171.57 165.73 L172.21 167.25 L172.85 168.79 L173.50 170.35 L174.14 171.94 L174.78 173.55 L175.43 175.19 L176.07 176.85 L176.71 178.54 L177.35 180.26 L178.00 182.01 L178.64 183.80 L179.28 185.62 L179.92 187.47 L180.57 189.37 L181.21 191.31 L181.85 193.29 L182.49 195.31 L183.14 197.39 L183.78 199.52 L184.42 201.71 L185.06 203.96 L185.71 206.27 L186.35 208.66 L186.99 211.12 L187.63 213.67 L188.28 216.31 L188.92 219.05 L189.56 221.90 L190.20 224.87 L190.85 227.98 L191.49 231.24 L192.13 234.67 L192.77 238.29 L193.42 242.13 L194.06 246.21 L194.70 250.59 L195.35 255.31 L195.51 256.56" stroke="#0000ff" stroke-width="2.8" stroke-dasharray="10.4 15.05"/>
<path d="M0.00 0.00 L0.64 0.00 L1.29 0.01 L1.93 0.02 L2.57 0.04 L3.21 0.06 L3.86 0.08 L4.50 0.11 L5.14 0.15 L5.78 0.18 L6.43 0.23 L7.07 0.28 L7.71 0.33 L8.35 0.38 L9.00 0.45 L9.64 0.51 L10.28 0.58 L10.92 0.66 L11.57 0.74 L12.21 0.82 L12.85 0.91 L13.49 1.00 L14.14 1.10 L14.78 1.20 L15.42 1.31 L16.06 1.42 L16.71 1.54 L17.35 1.66 L17.99 1.78 L18.63 1.91 L19.28 2.05 L19.92 2.19 L20.56 2.33 L21.21 2.48 L21.85 2.63 L22.49 2.79 L23.13 2.95 L23.78 3.12 L24.42 3.29 L25.06 3.47 L25.70 3.65 L26.35 3.83 L26.99 4.02 L27.63 4.22 L28.27 4.41 L28.92 4.62 L29.56 4.83 L30.20 5.04 L30.84 5.26 L31.49 5.48 L32.13 5.70 L32.77 5.94 L33.41 6.17 L34.06 6.41 L34.70 6.66 L35.34 6.91 L35.98 7.16 L36.63 7.42 L37.27 7.69 L37.91 7.95 L38.55 8.23 L39.20 8.51 L39.84 8.79 L40.48 9.08 L41.13 9.37 L41.77 9.66 L42.41 9.97 L43.05 10.27 L43.70 10.58 L44.34 10.90 L44.98 11.22 L45.62 11.54 L46.27 11.87 L46.91 12.21 L47.55 12.55 L48.19 12.89 L48.84 13.24 L49.48 13.60 L50.12 13.95 L50.76 14.32 L51.41 14.69 L52.05 15.06 L52.69 15.44 L53.33 15.82 L53.98 16.21 L54.62 16.60 L55.26 17.00 L55.90 17.40 L56.55 17.80 L57.19 18.22 L57.83 18.63 L58.48 19.05 L59.12 19.48 L59.76 19.91 L60.40 20.35 L61.05 20.79 L61.69 21.23 L62.33 21.69 L62.97 22.14 L63.62 22.60 L64.26 23.07 L64.90 23.54 L65.54 24.01 L66.19 24.49 L66.83 24.98 L67.47 25.47 L68.11 25.97 L68.76 26.47 L69.40 26.97 L70.04 27.48 L70.68 28.00 L71.33 28.52 L71.97 29.05 L72.61 29.58 L73.25 30.11 L73.90 30.65 L74.54 31.20 L75.18 31.75 L75.82 32.31 L76.47 32.87 L77.11 33.44 L77.75 34.01 L78.40 34.59 L79.04 35.17 L79.68 35.76 L80.32 36.35 L80.97 36.95 L81.61 37.55 L82.25 38.16 L82.89 38.77 L83.54 39.39 L84.18 40.01 L84.82 40.64 L85.46 41.28 L86.11 41.92 L86.75 42.56 L87.39 43.22 L88.03 43.87 L88.68 44.53 L89.32 45.20 L89.96 45.87 L90.60 46.55 L91.25 47.23 L91.89 47.92 L92.53 48.62 L93.17 49.32 L93.82 50.02 L94.46 50.73 L95.10 51.45 L95.74 52.17 L96.39 52.90 L97.03 53.63 L97.67 54.37 L98.32 55.11 L98.96 55.86 L99.60 56.62 L100.24 57.38 L100.89 58.14 L101.53 58.92 L102.17 59.69 L102.81 60.48 L103.46 61.27 L104.10 62.06 L104.74 62.86 L105.38 63.67 L106.03 64.48 L106.67 65.30 L107.31 66.12 L107.95 66.95 L108.60 67.79 L109.24 68.63 L109.88 69.48 L110.52 70.33 L111.17 71.19 L111.81 72.06 L112.45 72.93 L113.09 73.81 L113.74 74.69 L114.38 75.58 L115.02 76.48 L115.66 77.38 L116.31 78.29 L116.95 79.21 L117.59 80.13 L118.24 81.06 L118.88 81.99 L119.52 82.93 L120.16 83.88 L120.81 84.83 L121.45 85.79 L122.09 86.75 L122.73 87.72 L123.38 88.70 L124.02 89.69 L124.66 90.68 L125.30 91.68 L125.95 92.68 L126.59 93.69 L127.23 94.71 L127.87 95.74 L128.52 96.77 L129.16 97.81 L129.80 98.85 L130.44 99.90 L131.09 100.96 L131.73 102.03 L132.37 103.10 L133.01 104.18 L133.66 105.27 L134.30 106.36 L134.94 107.46 L135.59 108.57 L136.23 109.69 L136.87 110.81 L137.51 111.94 L138.16 113.08 L138.80 114.22 L139.44 115.38 L140.08 116.54 L140.73 117.70 L141.37 118.88 L142.01 120.06 L142.65 121.25 L143.30 122.45 L143.94 123.66 L144.58 124.87 L145.22 126.09 L145.87 127.32 L146.51 128.56 L147.15 129.81 L147.79 131.06 L148.44 132.33 L149.08 133.60 L149.72 134.88 L150.36 136.17 L151.01 137.46 L151.65 138.77 L152.29 140.08 L152.93 141.41 L153.58 142.74 L154.22 144.08 L154.86 145.43 L155.51 146.79 L156.15 148.16 L156.79 149.54 L157.43 150.93 L158.08 152.33 L158.72 153.73 L159.36 155.15 L160.00 156.58 L160.65 158.02 L161.29 159.46 L161.93 160.92 L162.57 162.39 L163.22 163.87 L163.86 165.36 L164.50 166.86 L165.14 168.37 L165.79 169.89 L166.43 171.43 L167.07 172.97 L167.71 174.53 L168.36 176.10 L169.00 177.68 L169.64 179.28 L170.28 180.88 L170.93 182.50 L171.57 184.13 L172.21 185.78 L172.85 187.44 L173.50 189.11 L174.14 190.80 L174.78 192.50 L175.43 194.21 L176.07 195.94 L176.71 197.69 L177.35 199.45 L178.00 201.23 L178.64 203.02 L179.28 204.83 L179.92 206.66 L180.57 208.51 L181.21 210.38 L181.85 212.28 L182.49 214.19 L183.14 216.13 L183.78 218.10 L184.42 220.10 L185.06 222.14 L185.71 224.22 L186.35 226.35 L186.99 228.53 L187.63 230.79 L188.28 233.12 L188.92 235.57 L189.56 238.14 L190.20 240.89 L190.85 243.85 L191.49 247.09 L192.13 250.70 L192.45 252.69" stroke="#ff00ff" stroke-dasharray="19 14.85"/>
</g></g>
<g stroke="#000" fill="none" stroke-linecap="butt">
<path d="M38.50 15.60 V226.10" stroke-width="1.5"/>
<path d="M37.60 225.40 H365.20" stroke-width="1.4"/>
<path d="M38.50 225.40 v-4.2 M120.00 225.40 v-4.2 M201.50 225.40 v-4.2 M283.00 225.40 v-4.2 M364.50 225.40 v-4.2 M38.50 183.60 h4.3 M38.50 141.80 h4.3 M38.50 100.00 h4.3 M38.50 58.20 h4.3 M38.50 16.40 h4.3" stroke-width="1.3"/>
<path d="M58.88 225.40 v-2.4 M79.25 225.40 v-2.4 M99.62 225.40 v-2.4 M140.38 225.40 v-2.4 M160.75 225.40 v-2.4 M181.12 225.40 v-2.4 M221.88 225.40 v-2.4 M242.25 225.40 v-2.4 M262.62 225.40 v-2.4 M303.38 225.40 v-2.4 M323.75 225.40 v-2.4 M344.12 225.40 v-2.4 M38.50 214.95 h2.4 M38.50 204.50 h2.4 M38.50 194.05 h2.4 M38.50 173.15 h2.4 M38.50 162.70 h2.4 M38.50 152.25 h2.4 M38.50 131.35 h2.4 M38.50 120.90 h2.4 M38.50 110.45 h2.4 M38.50 89.55 h2.4 M38.50 79.10 h2.4 M38.50 68.65 h2.4 M38.50 47.75 h2.4 M38.50 37.30 h2.4 M38.50 26.85 h2.4" stroke-width="0.7" stroke="#333"/>
</g>
<g stroke="#000" fill="none" stroke-linecap="butt">
<path d="M38.20 251.70 V461.90" stroke-width="1.6"/>
<path d="M37.05 461.30 H364.8" stroke-width="1.2"/>
<path d="M37.75 461.30 v-4.0 M118.46 461.30 v-4.0 M199.17 461.30 v-4.0 M279.88 461.30 v-4.0 M360.59 461.30 v-4.0 M37.75 253.20 h5.0 M37.75 280.44 h5.0 M37.75 316.46 h5.0 M37.75 343.70 h5.0 M37.75 370.94 h5.0 M37.75 406.96 h5.0 M37.75 434.20 h5.0" stroke-width="1.2"/>
<path d="M57.93 461.30 v-2.2 M78.11 461.30 v-2.2 M98.28 461.30 v-2.2 M138.64 461.30 v-2.2 M158.82 461.30 v-2.2 M178.99 461.30 v-2.2 M219.35 461.30 v-2.2 M239.53 461.30 v-2.2 M259.70 461.30 v-2.2 M300.06 461.30 v-2.2 M320.24 461.30 v-2.2 M340.41 461.30 v-2.2 M37.75 257.34 h2.6 M37.75 261.97 h2.6 M37.75 267.22 h2.6 M37.75 273.28 h2.6 M37.75 289.21 h2.6 M37.75 300.52 h2.6 M37.75 347.84 h2.6 M37.75 352.47 h2.6 M37.75 357.72 h2.6 M37.75 363.78 h2.6 M37.75 379.71 h2.6 M37.75 391.02 h2.6" stroke-width="0.6" stroke="#333"/>
</g>
<g font-family="Liberation Serif, serif" font-size="8.8" fill="#000">
<text transform="translate(38.70 234.90) scale(1.5 1)" text-anchor="middle">0.0</text>
<text transform="translate(120.20 234.90) scale(1.5 1)" text-anchor="middle">0.2</text>
<text transform="translate(201.70 234.90) scale(1.5 1)" text-anchor="middle">0.4</text>
<text transform="translate(283.20 234.90) scale(1.5 1)" text-anchor="middle">0.6</text>
<text transform="translate(364.70 234.90) scale(1.5 1)" text-anchor="middle">0.8</text>
<text transform="translate(36.00 186.50) scale(1.5 1)" text-anchor="end">0.2</text>
<text transform="translate(36.00 144.70) scale(1.5 1)" text-anchor="end">0.4</text>
<text transform="translate(36.00 102.90) scale(1.5 1)" text-anchor="end">0.6</text>
<text transform="translate(36.00 61.10) scale(1.5 1)" text-anchor="end">0.8</text>
<text transform="translate(36.00 19.30) scale(1.5 1)" text-anchor="end">1.0</text>
<text transform="translate(36.55 470.90) scale(1.5 1)" text-anchor="middle">0.0</text>
<text transform="translate(118.16 470.90) scale(1.5 1)" text-anchor="middle">0.2</text>
<text transform="translate(198.87 470.90) scale(1.5 1)" text-anchor="middle">0.4</text>
<text transform="translate(279.58 470.90) scale(1.5 1)" text-anchor="middle">0.6</text>
<text transform="translate(360.29 470.90) scale(1.5 1)" text-anchor="middle">0.8</text>
<text transform="translate(35.30 255.20) scale(1.5 1)" text-anchor="end">1.00</text>
<text transform="translate(35.30 283.34) scale(1.5 1)" text-anchor="end">0.50</text>
<text transform="translate(35.30 319.36) scale(1.5 1)" text-anchor="end">0.20</text>
<text transform="translate(35.30 346.60) scale(1.5 1)" text-anchor="end">0.10</text>
<text transform="translate(35.30 373.84) scale(1.5 1)" text-anchor="end">0.05</text>
<text transform="translate(35.30 409.86) scale(1.5 1)" text-anchor="end">0.02</text>
<text transform="translate(35.30 437.10) scale(1.5 1)" text-anchor="end">0.01</text>
</g>
<g font-family="Liberation Sans, sans-serif" fill="#000">
<text x="335.7" y="249.8" font-size="12.4" textLength="42.6" lengthAdjust="spacingAndGlyphs">q [GeV]</text>
<text x="335.6" y="486.0" font-size="12.4" textLength="42.4" lengthAdjust="spacingAndGlyphs">q [GeV]</text>
<text transform="translate(12.9 123.7) rotate(-90) scale(1.13 1)" font-size="11.1" textLength="100.9" lengthAdjust="spacing">electric form factor</text>
</g>
<g fill="#000" stroke="none" font-family="'Liberation Sans', sans-serif" font-size="19">
<text x="261.5" y="47.3" textLength="56.7" lengthAdjust="spacingAndGlyphs">Gauss</text>
<text x="262.7" y="71.1" textLength="60.2" lengthAdjust="spacingAndGlyphs">Pol. Fit</text>
<text x="261.5" y="95.1" textLength="69.3" lengthAdjust="spacingAndGlyphs">SOG Fit</text>
<text x="262.9" y="143.5" textLength="57.4" lengthAdjust="spacingAndGlyphs">Dipole</text>
</g>
<g fill="none" stroke-width="2.3" stroke-linecap="butt">
<path d="M228.8 42.6 H253" stroke="#ff0000"/>
<path d="M228.8 66.7 H241.6 M245.8 66.7 H253" stroke="#ff00ff"/>
<path d="M228.8 90.6 H233.1 M241.3 90.6 H245.9" stroke="#0000ff"/>
<path d="M228.8 136.3 H237.2 M241.4 136.3 H243.8 M247.9 136.3 H253" stroke="#00ff00"/>
</g>
</svg>
</body></html>
